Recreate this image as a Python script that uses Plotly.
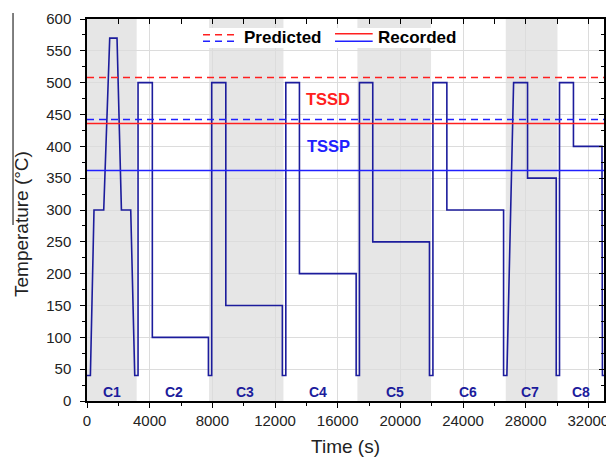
import plotly.graph_objects as go

# ---- data ----
time_s = [0, 217, 447, 1067, 1450, 1916, 2197, 2791, 3047, 3258, 3258, 4170, 4170,
          7750, 7750, 7960, 7960, 8860, 8860, 12470, 12470, 12690, 12690, 13560, 13560,
          17180, 17180, 17390, 17390, 18240, 18240, 21860, 21860, 22080, 22080, 22970,
          22970, 26590, 26590, 26800, 27230, 28120, 28120, 29950, 29950, 30160, 30160,
          31050, 31050, 32870, 32900, 33000]
temp_c = [40, 40, 300, 300, 570, 570, 300, 300, 40, 40, 500, 500, 100,
          100, 40, 40, 500, 500, 150, 150, 40, 40, 500, 500, 200,
          200, 40, 40, 500, 500, 250, 250, 40, 40, 500, 500,
          300, 300, 40, 40, 500, 500, 350, 350, 40, 40, 500,
          500, 400, 400, 40, 40]

cycle_names = ["C1", "C2", "C3", "C4", "C5", "C6", "C7", "C8"]
cycle_bounds = [0, 3170, 7790, 12540, 17260, 21960, 26730, 30030, 33000]
cycle_shaded = [True, False, True, False, True, False, True, False]
cycle_label_x = [1580, 5560, 10090, 14770, 19670, 24350, 28290, 31530]
cycle_label_y = 14

tssd_predicted = 508
tssp_predicted = 442
tssd_recorded = 436
tssp_recorded = 362

x_ticks = list(range(0, 32001, 4000))
x_range = [0, 33000]
y_range = [0, 600]

# ---- styles ----
NAVY = "#1c1c9c"
RED = "#ff2020"
BLUE = "#2020ff"
FONT = "Liberation Sans, Arial, sans-serif"

fig = go.Figure()

fig.add_trace(go.Scatter(x=time_s, y=temp_c, mode="lines",
                         line=dict(color=NAVY, width=1.6), showlegend=False,
                         hoverinfo="skip"))
# dummy trace for mirrored axes
fig.add_trace(go.Scatter(x=[None], y=[None], xaxis="x2", yaxis="y2", showlegend=False))

shapes = []
for i, name in enumerate(cycle_names):
    if cycle_shaded[i]:
        shapes.append(dict(type="rect", xref="x", yref="paper",
                           x0=cycle_bounds[i], x1=cycle_bounds[i + 1], y0=0, y1=1,
                           fillcolor="#e6e6e6", line=dict(width=0), layer="below"))

for yv, col, dash in [(tssd_predicted, RED, "7px,5px"), (tssp_predicted, BLUE, "7px,5px"),
                      (tssd_recorded, RED, "solid"), (tssp_recorded, BLUE, "solid")]:
    shapes.append(dict(type="line", xref="paper", yref="y", x0=0, x1=1, y0=yv, y1=yv,
                       line=dict(color=col, width=1.5, dash=dash), layer="above"))

# custom legend (paper coords)
shapes.append(dict(type="rect", xref="paper", yref="paper", x0=0.2186, x1=0.7215,
                   y0=0.9241, y1=0.9764, fillcolor="white", line=dict(width=0), layer="above"))
shapes.append(dict(type="line", xref="paper", yref="paper", x0=0.2244, x1=0.2921,
                   y0=0.9589, y1=0.9589, line=dict(color=RED, width=1.5, dash="7px,5px")))
shapes.append(dict(type="line", xref="paper", yref="paper", x0=0.2244, x1=0.2921,
                   y0=0.9416, y1=0.9416, line=dict(color=BLUE, width=1.5, dash="7px,5px")))
shapes.append(dict(type="line", xref="paper", yref="paper", x0=0.4797, x1=0.5526,
                   y0=0.9615, y1=0.9615, line=dict(color=RED, width=1.5)))
shapes.append(dict(type="line", xref="paper", yref="paper", x0=0.4797, x1=0.5526,
                   y0=0.9416, y1=0.9416, line=dict(color=BLUE, width=1.5)))
# stray vertical line at far left
shapes.append(dict(type="line", xref="paper", yref="paper", x0=-0.1431, x1=-0.1431,
                   y0=0.4607, y1=1.0157, line=dict(color="black", width=1)))

annotations = []
for name, lx in zip(cycle_names, cycle_label_x):
    annotations.append(dict(x=lx, y=cycle_label_y, xref="x", yref="y", text="<b>%s</b>" % name,
                            showarrow=False, font=dict(family=FONT, size=14, color=NAVY)))
annotations.append(dict(x=15390, y=474, xref="x", yref="y", text="<b>TSSD</b>",
                        showarrow=False, font=dict(family=FONT, size=16.5, color=RED)))
annotations.append(dict(x=15390, y=400, xref="x", yref="y", text="<b>TSSP</b>",
                        showarrow=False, font=dict(family=FONT, size=16.5, color=BLUE)))
annotations.append(dict(x=0.2992, y=0.9503, xref="paper", yref="paper", text="<b>Predicted</b>",
                        xanchor="left", yanchor="middle", showarrow=False,
                        font=dict(family=FONT, size=17, color="black")))
annotations.append(dict(x=0.5590, y=0.9503, xref="paper", yref="paper", text="<b>Recorded</b>",
                        xanchor="left", yanchor="middle", showarrow=False,
                        font=dict(family=FONT, size=17, color="black")))
# y-axis title placed as rotated text
annotations.append(dict(x=-0.1257, y=0.4634, xref="paper", yref="paper", text="Temperature (°C)",
                        textangle=-90, xanchor="center", yanchor="middle", showarrow=False,
                        font=dict(family=FONT, size=19, color="#222")))

axis_common = dict(showline=True, linecolor="black", linewidth=1.5, zeroline=False, automargin=False)

# page body has an 8px margin -> figure sized/offset to compensate
fig.update_layout(
    width=606, height=449,
    margin=dict(l=79, r=10, t=11, b=56),
    paper_bgcolor="white", plot_bgcolor="white",
    font=dict(family=FONT, size=15, color="#222"),
    shapes=shapes, annotations=annotations, showlegend=False,
    xaxis=dict(range=x_range, tickmode="array", tickvals=x_ticks, ticktext=[str(v) for v in x_ticks],
               ticks="outside", ticklen=5, tickwidth=1.3, tickcolor="black",
               minor=dict(ticks="outside", ticklen=3, tickcolor="black", dtick=2000, showgrid=False),
               showgrid=True, gridcolor="#dcdcdc", gridwidth=1,
               title=dict(text="Time (s)", font=dict(size=19), standoff=13),
               tickfont=dict(size=15), **axis_common),
    yaxis=dict(range=y_range, dtick=50, ticks="outside", ticklen=5, tickwidth=1.3, tickcolor="black",
               minor=dict(ticks="outside", ticklen=3, tickcolor="black", dtick=25, showgrid=False),
               showgrid=True, gridcolor="#dcdcdc", gridwidth=1, ticklabelstandoff=6,
               tickfont=dict(size=15), **axis_common),
    xaxis2=dict(range=x_range, overlaying="x", side="top", anchor="y", showticklabels=False,
                tickvals=x_ticks, ticks="inside", ticklen=5, tickcolor="black",
                minor=dict(ticks="inside", ticklen=5, tickcolor="black", dtick=2000),
                showgrid=False, **axis_common),
    yaxis2=dict(range=y_range, overlaying="y", side="right", anchor="x", showticklabels=False,
                dtick=50, ticks="inside", ticklen=5, tickcolor="black",
                minor=dict(ticks="inside", ticklen=3, tickcolor="black", dtick=25),
                showgrid=False, **axis_common),
)

fig.write_html("out.html")
